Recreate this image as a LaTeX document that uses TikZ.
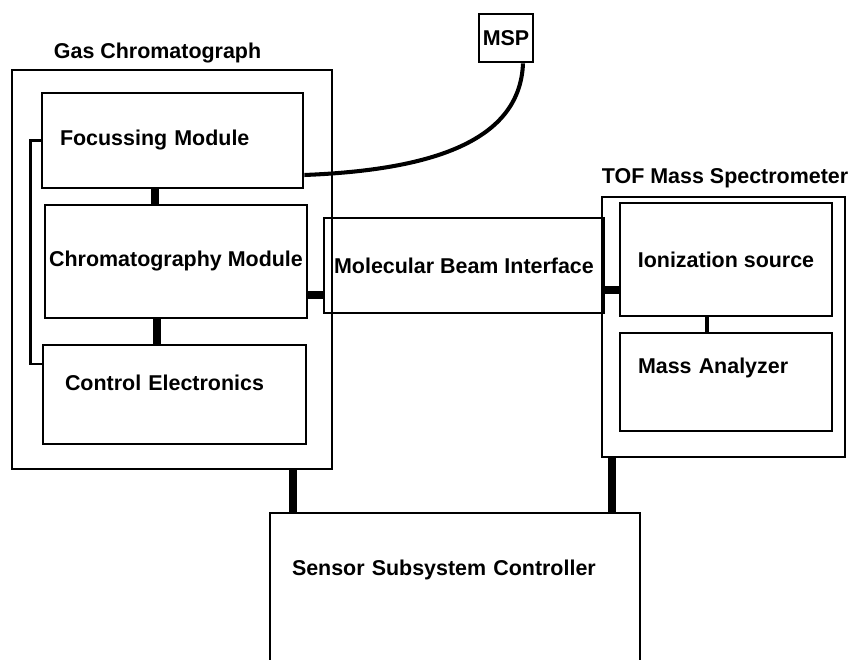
\documentclass[tikz,border=0pt]{standalone}
\usepackage{fontspec}
\setmainfont{Liberation Sans}
\usetikzlibrary{positioning,calc}

\begin{document}
\begin{tikzpicture}[font=\fontsize{12.2}{14}\selectfont\bfseries,
   bx/.style={draw, line width=1.6pt, inner sep=0pt, align=center},
   lbx/.style={bx, align=left, inner xsep=0.36cm},
   link/.style={line width=4pt}]
  \path[use as bounding box, clip] (0,0) rectangle (17.08,-13.2);
  % gas chromatograph
  \node[bx, minimum width=6.4cm, minimum height=7.98cm] (gc) at (3.44,-5.39) {};
  \node[anchor=base west, inner sep=0pt] (gclabel) at ([xshift=0.86cm, yshift=0.2cm]gc.north west) {Gas Chromatograph};
  \node[lbx, text width=4.5cm, minimum height=1.9cm] (focus) at (3.45,-2.81) {Focussing Module};
  \node[bx, minimum width=5.24cm, minimum height=2.26cm] (chrom) at (3.52,-5.23) {Chromatography Module};
  \node[lbx, inner xsep=0.44cm, text width=4.38cm, minimum height=1.98cm, text depth=0.46cm] (ctrl) at (3.49,-7.89) {Control Electronics};
  % interface and msp
  \node[bx, minimum width=5.6cm, minimum height=1.9cm] (mbi) at (9.28,-5.31) {Molecular Beam Interface};
  \node[bx, minimum width=1.08cm, minimum height=0.96cm] (msp) at (10.12,-0.76) {MSP};
  % tof mass spectrometer
  \node[bx, minimum width=4.86cm, minimum height=5.2cm] (tof) at (14.47,-6.54) {};
  \node[anchor=base west, inner sep=0pt] (toflabel) at ([xshift=0.02cm, yshift=0.24cm]tof.north west) {TOF Mass Spectrometer};
  \node[bx, minimum width=4.24cm, minimum height=2.26cm] (ion) at (14.52,-5.19) {Ionization source};
  \node[lbx, text width=3.52cm, minimum height=1.96cm, text depth=0.65cm] (mass) at (14.52,-7.64) {Mass Analyzer};
  % controller
  \node[lbx, inner xsep=0.44cm, text width=6.52cm, minimum height=4.6cm, text depth=2.4cm] (ssc) at (9.10,-12.56) {Sensor Subsystem Controller};

  \draw[link] ([xshift=-0.35cm]focus.south) -- ([xshift=-0.35cm]focus.south |- chrom.north);
  \draw[link] ([xshift=-0.38cm]chrom.south) -- ([xshift=-0.38cm]chrom.south |- ctrl.north);
  \draw[line width=1.6pt] (focus.west) -- ++(-0.2,0) |- ([yshift=0.61cm]ctrl.west);
  \draw[link] ([yshift=-0.67cm]chrom.east) -- ([yshift=-0.67cm]chrom.east -| mbi.west);
  \draw[link] ([yshift=-0.49cm]mbi.east) -- ([yshift=-0.49cm]mbi.east -| ion.west);
  \draw[line width=2.8pt] ([xshift=-0.38cm]ion.south) -- ([xshift=-0.38cm]ion.south |- mass.north);
  \draw[link] ([xshift=2.42cm]gc.south) -- ([xshift=2.42cm]gc.south |- ssc.north);
  \draw[link] ([xshift=-2.23cm]tof.south) -- ([xshift=-2.23cm]tof.south |- ssc.north);
  \draw[line width=2.3pt] ([xshift=0.34cm]msp.south) .. controls +(-0.06,-1.56) and +(2.54,0.1) .. ([yshift=-0.69cm]focus.east);
\end{tikzpicture}
\end{document}
